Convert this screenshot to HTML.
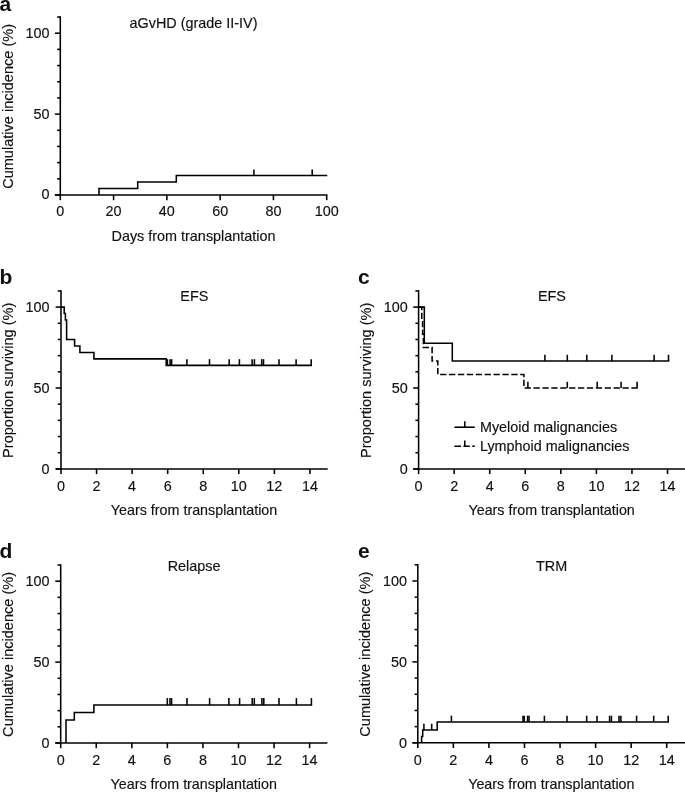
<!DOCTYPE html>
<html><head><meta charset="utf-8"><title>Figure</title>
<style>
html,body{margin:0;padding:0;background:#fff;}
svg{display:block;}
svg text{font-family:"Liberation Sans",Arial,Helvetica,sans-serif;font-size:14.4px;text-anchor:middle;stroke:#111;stroke-width:0.15px;}
</style></head><body>
<svg width="685" height="793" viewBox="0 0 685 793">
<rect width="685" height="793" fill="#fff"/>
<g stroke="#000" stroke-width="1.55" fill="none" stroke-linecap="butt">
<line x1="60.30" y1="16.24" x2="60.30" y2="195.78" />
<line x1="54.90" y1="195.00" x2="327.48" y2="195.00" />
<line x1="54.90" y1="195.00" x2="60.30" y2="195.00" />
<line x1="57.10" y1="178.82" x2="60.30" y2="178.82" />
<line x1="57.10" y1="162.64" x2="60.30" y2="162.64" />
<line x1="57.10" y1="146.46" x2="60.30" y2="146.46" />
<line x1="57.10" y1="130.28" x2="60.30" y2="130.28" />
<line x1="54.90" y1="114.10" x2="60.30" y2="114.10" />
<line x1="57.10" y1="97.92" x2="60.30" y2="97.92" />
<line x1="57.10" y1="81.74" x2="60.30" y2="81.74" />
<line x1="57.10" y1="65.56" x2="60.30" y2="65.56" />
<line x1="57.10" y1="49.38" x2="60.30" y2="49.38" />
<line x1="54.90" y1="33.20" x2="60.30" y2="33.20" />
<line x1="57.10" y1="17.02" x2="60.30" y2="17.02" />
<line x1="60.30" y1="195.00" x2="60.30" y2="200.20" />
<line x1="113.58" y1="195.00" x2="113.58" y2="200.20" />
<line x1="166.86" y1="195.00" x2="166.86" y2="200.20" />
<line x1="220.14" y1="195.00" x2="220.14" y2="200.20" />
<line x1="273.42" y1="195.00" x2="273.42" y2="200.20" />
<line x1="326.70" y1="195.00" x2="326.70" y2="200.20" />
</g>
<g fill="#111">
<text x="49.50" y="199.40" style="text-anchor:end">0</text>
<text x="49.50" y="118.50" style="text-anchor:end">50</text>
<text x="49.50" y="37.60" style="text-anchor:end">100</text>
<text x="60.30" y="216.20">0</text>
<text x="113.58" y="216.20">20</text>
<text x="166.86" y="216.20">40</text>
<text x="220.14" y="216.20">60</text>
<text x="273.42" y="216.20">80</text>
<text x="326.70" y="216.20">100</text>
<text x="193.50" y="241.00">Days from transplantation</text>
<text x="193.50" y="27.80">aGvHD (grade II-IV)</text>
<text x="12.80" y="106.41" style="font-size:14.55px" transform="rotate(-90 12.80 106.41)">Cumulative incidence (%)</text>
<text x="-0.50" y="11.10" style="font-weight:bold;stroke:none;font-size:21px;text-anchor:start">a</text>
</g>
<path d="M99.00 195.00 L99.00 188.53 L137.70 188.53 L137.70 182.06 L176.30 182.06 L176.30 175.58 L327.27 175.58" stroke="#000" stroke-width="1.55" fill="none" stroke-linejoin="miter"/>
<g stroke="#000" stroke-width="1.55">
<line x1="253.90" y1="175.58" x2="253.90" y2="169.38" />
<line x1="312.20" y1="175.58" x2="312.20" y2="169.38" />
</g>
<g stroke="#000" stroke-width="1.55" fill="none" stroke-linecap="butt">
<line x1="61.00" y1="290.14" x2="61.00" y2="469.67" />
<line x1="55.60" y1="468.90" x2="327.70" y2="468.90" />
<line x1="55.60" y1="468.90" x2="61.00" y2="468.90" />
<line x1="57.80" y1="452.72" x2="61.00" y2="452.72" />
<line x1="57.80" y1="436.54" x2="61.00" y2="436.54" />
<line x1="57.80" y1="420.36" x2="61.00" y2="420.36" />
<line x1="57.80" y1="404.18" x2="61.00" y2="404.18" />
<line x1="55.60" y1="388.00" x2="61.00" y2="388.00" />
<line x1="57.80" y1="371.82" x2="61.00" y2="371.82" />
<line x1="57.80" y1="355.64" x2="61.00" y2="355.64" />
<line x1="57.80" y1="339.46" x2="61.00" y2="339.46" />
<line x1="57.80" y1="323.28" x2="61.00" y2="323.28" />
<line x1="55.60" y1="307.10" x2="61.00" y2="307.10" />
<line x1="57.80" y1="290.92" x2="61.00" y2="290.92" />
<line x1="61.00" y1="468.90" x2="61.00" y2="474.10" />
<line x1="96.56" y1="468.90" x2="96.56" y2="474.10" />
<line x1="132.12" y1="468.90" x2="132.12" y2="474.10" />
<line x1="167.68" y1="468.90" x2="167.68" y2="474.10" />
<line x1="203.24" y1="468.90" x2="203.24" y2="474.10" />
<line x1="238.80" y1="468.90" x2="238.80" y2="474.10" />
<line x1="274.36" y1="468.90" x2="274.36" y2="474.10" />
<line x1="309.92" y1="468.90" x2="309.92" y2="474.10" />
</g>
<g fill="#111">
<text x="49.60" y="473.60" style="text-anchor:end">0</text>
<text x="49.60" y="392.70" style="text-anchor:end">50</text>
<text x="49.60" y="311.80" style="text-anchor:end">100</text>
<text x="61.00" y="490.70">0</text>
<text x="96.56" y="490.70">2</text>
<text x="132.12" y="490.70">4</text>
<text x="167.68" y="490.70">6</text>
<text x="203.24" y="490.70">8</text>
<text x="238.80" y="490.70">10</text>
<text x="274.36" y="490.70">12</text>
<text x="309.92" y="490.70">14</text>
<text x="194.05" y="515.40" style="font-size:14.3px">Years from transplantation</text>
<text x="194.35" y="301.00">EFS</text>
<text x="13.50" y="380.31" style="font-size:14.55px" transform="rotate(-90 13.50 380.31)">Proportion surviving (%)</text>
<text x="-0.40" y="284.10" style="font-weight:bold;stroke:none;font-size:21px;text-anchor:start">b</text>
</g>
<path d="M61.00 307.10 L64.20 307.10 L64.20 313.57 L65.40 313.57 L65.40 320.04 L66.60 320.04 L66.60 339.46 L74.60 339.46 L74.60 345.93 L79.90 345.93 L79.90 352.40 L93.90 352.40 L93.90 358.88 L166.20 358.88 L166.20 365.35 L311.97 365.35" stroke="#000" stroke-width="1.55" fill="none" stroke-linejoin="miter"/>
<g stroke="#000" stroke-width="1.55">
<line x1="167.40" y1="365.35" x2="167.40" y2="359.15" />
<line x1="170.10" y1="365.35" x2="170.10" y2="359.15" />
<line x1="171.60" y1="365.35" x2="171.60" y2="359.15" />
<line x1="186.90" y1="365.35" x2="186.90" y2="359.15" />
<line x1="209.50" y1="365.35" x2="209.50" y2="359.15" />
<line x1="229.20" y1="365.35" x2="229.20" y2="359.15" />
<line x1="239.40" y1="365.35" x2="239.40" y2="359.15" />
<line x1="252.10" y1="365.35" x2="252.10" y2="359.15" />
<line x1="254.40" y1="365.35" x2="254.40" y2="359.15" />
<line x1="261.70" y1="365.35" x2="261.70" y2="359.15" />
<line x1="263.50" y1="365.35" x2="263.50" y2="359.15" />
<line x1="279.00" y1="365.35" x2="279.00" y2="359.15" />
<line x1="296.10" y1="365.35" x2="296.10" y2="359.15" />
<line x1="311.20" y1="365.35" x2="311.20" y2="359.15" />
</g>
<g stroke="#000" stroke-width="1.55" fill="none" stroke-linecap="butt">
<line x1="418.60" y1="290.14" x2="418.60" y2="469.67" />
<line x1="413.20" y1="468.90" x2="685.30" y2="468.90" />
<line x1="413.20" y1="468.90" x2="418.60" y2="468.90" />
<line x1="415.40" y1="452.72" x2="418.60" y2="452.72" />
<line x1="415.40" y1="436.54" x2="418.60" y2="436.54" />
<line x1="415.40" y1="420.36" x2="418.60" y2="420.36" />
<line x1="415.40" y1="404.18" x2="418.60" y2="404.18" />
<line x1="413.20" y1="388.00" x2="418.60" y2="388.00" />
<line x1="415.40" y1="371.82" x2="418.60" y2="371.82" />
<line x1="415.40" y1="355.64" x2="418.60" y2="355.64" />
<line x1="415.40" y1="339.46" x2="418.60" y2="339.46" />
<line x1="415.40" y1="323.28" x2="418.60" y2="323.28" />
<line x1="413.20" y1="307.10" x2="418.60" y2="307.10" />
<line x1="415.40" y1="290.92" x2="418.60" y2="290.92" />
<line x1="418.60" y1="468.90" x2="418.60" y2="474.10" />
<line x1="454.16" y1="468.90" x2="454.16" y2="474.10" />
<line x1="489.72" y1="468.90" x2="489.72" y2="474.10" />
<line x1="525.28" y1="468.90" x2="525.28" y2="474.10" />
<line x1="560.84" y1="468.90" x2="560.84" y2="474.10" />
<line x1="596.40" y1="468.90" x2="596.40" y2="474.10" />
<line x1="631.96" y1="468.90" x2="631.96" y2="474.10" />
<line x1="667.52" y1="468.90" x2="667.52" y2="474.10" />
</g>
<g fill="#111">
<text x="407.80" y="473.60" style="text-anchor:end">0</text>
<text x="407.80" y="392.70" style="text-anchor:end">50</text>
<text x="407.80" y="311.80" style="text-anchor:end">100</text>
<text x="418.60" y="490.70">0</text>
<text x="454.16" y="490.70">2</text>
<text x="489.72" y="490.70">4</text>
<text x="525.28" y="490.70">6</text>
<text x="560.84" y="490.70">8</text>
<text x="596.40" y="490.70">10</text>
<text x="631.96" y="490.70">12</text>
<text x="667.52" y="490.70">14</text>
<text x="551.65" y="514.90" style="font-size:14.3px">Years from transplantation</text>
<text x="551.95" y="301.00">EFS</text>
<text x="371.10" y="380.31" style="font-size:14.55px" transform="rotate(-90 371.10 380.31)">Proportion surviving (%)</text>
<text x="358.00" y="284.10" style="font-weight:bold;stroke:none;font-size:21px;text-anchor:start">c</text>
</g>
<path d="M418.60 307.10 L424.30 307.10 L424.30 343.34 L452.30 343.34 L452.30 360.98 L669.27 360.98" stroke="#000" stroke-width="1.55" fill="none" stroke-linejoin="miter"/>
<g stroke="#000" stroke-width="1.55">
<line x1="544.90" y1="360.98" x2="544.90" y2="354.78" />
<line x1="567.30" y1="360.98" x2="567.30" y2="354.78" />
<line x1="586.80" y1="360.98" x2="586.80" y2="354.78" />
<line x1="611.90" y1="360.98" x2="611.90" y2="354.78" />
<line x1="654.10" y1="360.98" x2="654.10" y2="354.78" />
<line x1="668.50" y1="360.98" x2="668.50" y2="354.78" />
</g>
<path d="M418.60 307.10 L421.80 307.10 L421.80 320.53 L422.60 320.53 L422.60 334.12 L423.40 334.12 L423.40 347.55 L432.10 347.55 L432.10 360.98 L437.80 360.98 L437.80 374.57 L523.90 374.57 L523.90 388.00 L637.88 388.00" stroke="#000" stroke-width="1.55" fill="none" stroke-linejoin="miter" stroke-dasharray="6.3 2.6"/>
<g stroke="#000" stroke-width="1.55">
<line x1="527.90" y1="388.00" x2="527.90" y2="381.80" />
<line x1="567.30" y1="388.00" x2="567.30" y2="381.80" />
<line x1="597.20" y1="388.00" x2="597.20" y2="381.80" />
<line x1="621.10" y1="388.00" x2="621.10" y2="381.80" />
<line x1="637.10" y1="388.00" x2="637.10" y2="381.80" />
</g>
<g stroke="#000" stroke-width="1.55">
<line x1="454.40" y1="427.20" x2="474.80" y2="427.20" />
<line x1="464.80" y1="427.20" x2="464.80" y2="421.20" />
<line x1="454.40" y1="446.25" x2="461.00" y2="446.25" />
<line x1="463.40" y1="446.25" x2="469.80" y2="446.25" />
<line x1="472.20" y1="446.25" x2="474.80" y2="446.25" />
<line x1="464.80" y1="446.25" x2="464.80" y2="440.50" />
</g>
<g fill="#111">
<text x="480.00" y="431.50" style="font-size:14.35px;text-anchor:start">Myeloid malignancies</text>
<text x="480.00" y="450.70" style="font-size:14.35px;text-anchor:start">Lymphoid malignancies</text>
</g>
<g stroke="#000" stroke-width="1.55" fill="none" stroke-linecap="butt">
<line x1="60.70" y1="564.25" x2="60.70" y2="743.77" />
<line x1="55.30" y1="743.00" x2="327.40" y2="743.00" />
<line x1="55.30" y1="743.00" x2="60.70" y2="743.00" />
<line x1="57.50" y1="726.82" x2="60.70" y2="726.82" />
<line x1="57.50" y1="710.64" x2="60.70" y2="710.64" />
<line x1="57.50" y1="694.46" x2="60.70" y2="694.46" />
<line x1="57.50" y1="678.28" x2="60.70" y2="678.28" />
<line x1="55.30" y1="662.10" x2="60.70" y2="662.10" />
<line x1="57.50" y1="645.92" x2="60.70" y2="645.92" />
<line x1="57.50" y1="629.74" x2="60.70" y2="629.74" />
<line x1="57.50" y1="613.56" x2="60.70" y2="613.56" />
<line x1="57.50" y1="597.38" x2="60.70" y2="597.38" />
<line x1="55.30" y1="581.20" x2="60.70" y2="581.20" />
<line x1="57.50" y1="565.02" x2="60.70" y2="565.02" />
<line x1="60.70" y1="743.00" x2="60.70" y2="748.20" />
<line x1="96.26" y1="743.00" x2="96.26" y2="748.20" />
<line x1="131.82" y1="743.00" x2="131.82" y2="748.20" />
<line x1="167.38" y1="743.00" x2="167.38" y2="748.20" />
<line x1="202.94" y1="743.00" x2="202.94" y2="748.20" />
<line x1="238.50" y1="743.00" x2="238.50" y2="748.20" />
<line x1="274.06" y1="743.00" x2="274.06" y2="748.20" />
<line x1="309.62" y1="743.00" x2="309.62" y2="748.20" />
</g>
<g fill="#111">
<text x="49.60" y="747.70" style="text-anchor:end">0</text>
<text x="49.60" y="666.80" style="text-anchor:end">50</text>
<text x="49.60" y="585.90" style="text-anchor:end">100</text>
<text x="60.70" y="764.80">0</text>
<text x="96.26" y="764.80">2</text>
<text x="131.82" y="764.80">4</text>
<text x="167.38" y="764.80">6</text>
<text x="202.94" y="764.80">8</text>
<text x="238.50" y="764.80">10</text>
<text x="274.06" y="764.80">12</text>
<text x="309.62" y="764.80">14</text>
<text x="193.75" y="789.40" style="font-size:14.3px">Years from transplantation</text>
<text x="194.05" y="570.50">Relapse</text>
<text x="13.20" y="654.41" style="font-size:14.55px" transform="rotate(-90 13.20 654.41)">Cumulative incidence (%)</text>
<text x="-0.60" y="557.90" style="font-weight:bold;stroke:none;font-size:21px;text-anchor:start">d</text>
</g>
<path d="M66.00 743.00 L66.00 719.90 L74.30 719.90 L74.30 712.40 L93.90 712.40 L93.90 705.00 L312.17 705.00" stroke="#000" stroke-width="1.55" fill="none" stroke-linejoin="miter"/>
<g stroke="#000" stroke-width="1.55">
<line x1="167.30" y1="705.00" x2="167.30" y2="698.10" />
<line x1="170.00" y1="705.00" x2="170.00" y2="698.10" />
<line x1="171.60" y1="705.00" x2="171.60" y2="698.10" />
<line x1="187.00" y1="705.00" x2="187.00" y2="698.10" />
<line x1="209.60" y1="705.00" x2="209.60" y2="698.10" />
<line x1="228.90" y1="705.00" x2="228.90" y2="698.10" />
<line x1="239.60" y1="705.00" x2="239.60" y2="698.10" />
<line x1="252.20" y1="705.00" x2="252.20" y2="698.10" />
<line x1="254.30" y1="705.00" x2="254.30" y2="698.10" />
<line x1="261.90" y1="705.00" x2="261.90" y2="698.10" />
<line x1="263.80" y1="705.00" x2="263.80" y2="698.10" />
<line x1="279.00" y1="705.00" x2="279.00" y2="698.10" />
<line x1="296.40" y1="705.00" x2="296.40" y2="698.10" />
<line x1="311.40" y1="705.00" x2="311.40" y2="698.10" />
</g>
<g stroke="#000" stroke-width="1.55" fill="none" stroke-linecap="butt">
<line x1="417.80" y1="564.04" x2="417.80" y2="743.57" />
<line x1="412.40" y1="742.80" x2="685.50" y2="742.80" />
<line x1="412.40" y1="742.80" x2="417.80" y2="742.80" />
<line x1="414.60" y1="726.62" x2="417.80" y2="726.62" />
<line x1="414.60" y1="710.44" x2="417.80" y2="710.44" />
<line x1="414.60" y1="694.26" x2="417.80" y2="694.26" />
<line x1="414.60" y1="678.08" x2="417.80" y2="678.08" />
<line x1="412.40" y1="661.90" x2="417.80" y2="661.90" />
<line x1="414.60" y1="645.72" x2="417.80" y2="645.72" />
<line x1="414.60" y1="629.54" x2="417.80" y2="629.54" />
<line x1="414.60" y1="613.36" x2="417.80" y2="613.36" />
<line x1="414.60" y1="597.18" x2="417.80" y2="597.18" />
<line x1="412.40" y1="581.00" x2="417.80" y2="581.00" />
<line x1="414.60" y1="564.82" x2="417.80" y2="564.82" />
<line x1="417.80" y1="742.80" x2="417.80" y2="748.00" />
<line x1="453.36" y1="742.80" x2="453.36" y2="748.00" />
<line x1="488.92" y1="742.80" x2="488.92" y2="748.00" />
<line x1="524.48" y1="742.80" x2="524.48" y2="748.00" />
<line x1="560.04" y1="742.80" x2="560.04" y2="748.00" />
<line x1="595.60" y1="742.80" x2="595.60" y2="748.00" />
<line x1="631.16" y1="742.80" x2="631.16" y2="748.00" />
<line x1="666.72" y1="742.80" x2="666.72" y2="748.00" />
</g>
<g fill="#111">
<text x="407.00" y="747.50" style="text-anchor:end">0</text>
<text x="407.00" y="666.60" style="text-anchor:end">50</text>
<text x="407.00" y="585.70" style="text-anchor:end">100</text>
<text x="417.80" y="764.60">0</text>
<text x="453.36" y="764.60">2</text>
<text x="488.92" y="764.60">4</text>
<text x="524.48" y="764.60">6</text>
<text x="560.04" y="764.60">8</text>
<text x="595.60" y="764.60">10</text>
<text x="631.16" y="764.60">12</text>
<text x="666.72" y="764.60">14</text>
<text x="551.35" y="789.20" style="font-size:14.3px">Years from transplantation</text>
<text x="551.65" y="570.50">TRM</text>
<text x="370.30" y="654.21" style="font-size:14.55px" transform="rotate(-90 370.30 654.21)">Cumulative incidence (%)</text>
<text x="358.00" y="557.90" style="font-weight:bold;stroke:none;font-size:21px;text-anchor:start">e</text>
</g>
<path d="M421.60 742.80 L421.60 736.50 L422.70 736.50 L422.70 730.00 L437.20 730.00 L437.20 721.90 L668.98 721.90" stroke="#000" stroke-width="1.55" fill="none" stroke-linejoin="miter"/>
<g stroke="#000" stroke-width="1.55">
<line x1="423.90" y1="730.00" x2="423.90" y2="723.80" />
<line x1="431.70" y1="730.00" x2="431.70" y2="723.80" />
</g>
<g stroke="#000" stroke-width="1.55">
<line x1="451.40" y1="721.90" x2="451.40" y2="715.70" />
<line x1="523.00" y1="721.90" x2="523.00" y2="715.70" />
<line x1="524.20" y1="721.90" x2="524.20" y2="715.70" />
<line x1="527.60" y1="721.90" x2="527.60" y2="715.70" />
<line x1="529.00" y1="721.90" x2="529.00" y2="715.70" />
<line x1="544.40" y1="721.90" x2="544.40" y2="715.70" />
<line x1="567.00" y1="721.90" x2="567.00" y2="715.70" />
<line x1="586.70" y1="721.90" x2="586.70" y2="715.70" />
<line x1="597.00" y1="721.90" x2="597.00" y2="715.70" />
<line x1="609.60" y1="721.90" x2="609.60" y2="715.70" />
<line x1="611.40" y1="721.90" x2="611.40" y2="715.70" />
<line x1="619.00" y1="721.90" x2="619.00" y2="715.70" />
<line x1="620.90" y1="721.90" x2="620.90" y2="715.70" />
<line x1="636.60" y1="721.90" x2="636.60" y2="715.70" />
<line x1="653.70" y1="721.90" x2="653.70" y2="715.70" />
<line x1="668.20" y1="721.90" x2="668.20" y2="715.70" />
</g>
</svg>
</body></html>
